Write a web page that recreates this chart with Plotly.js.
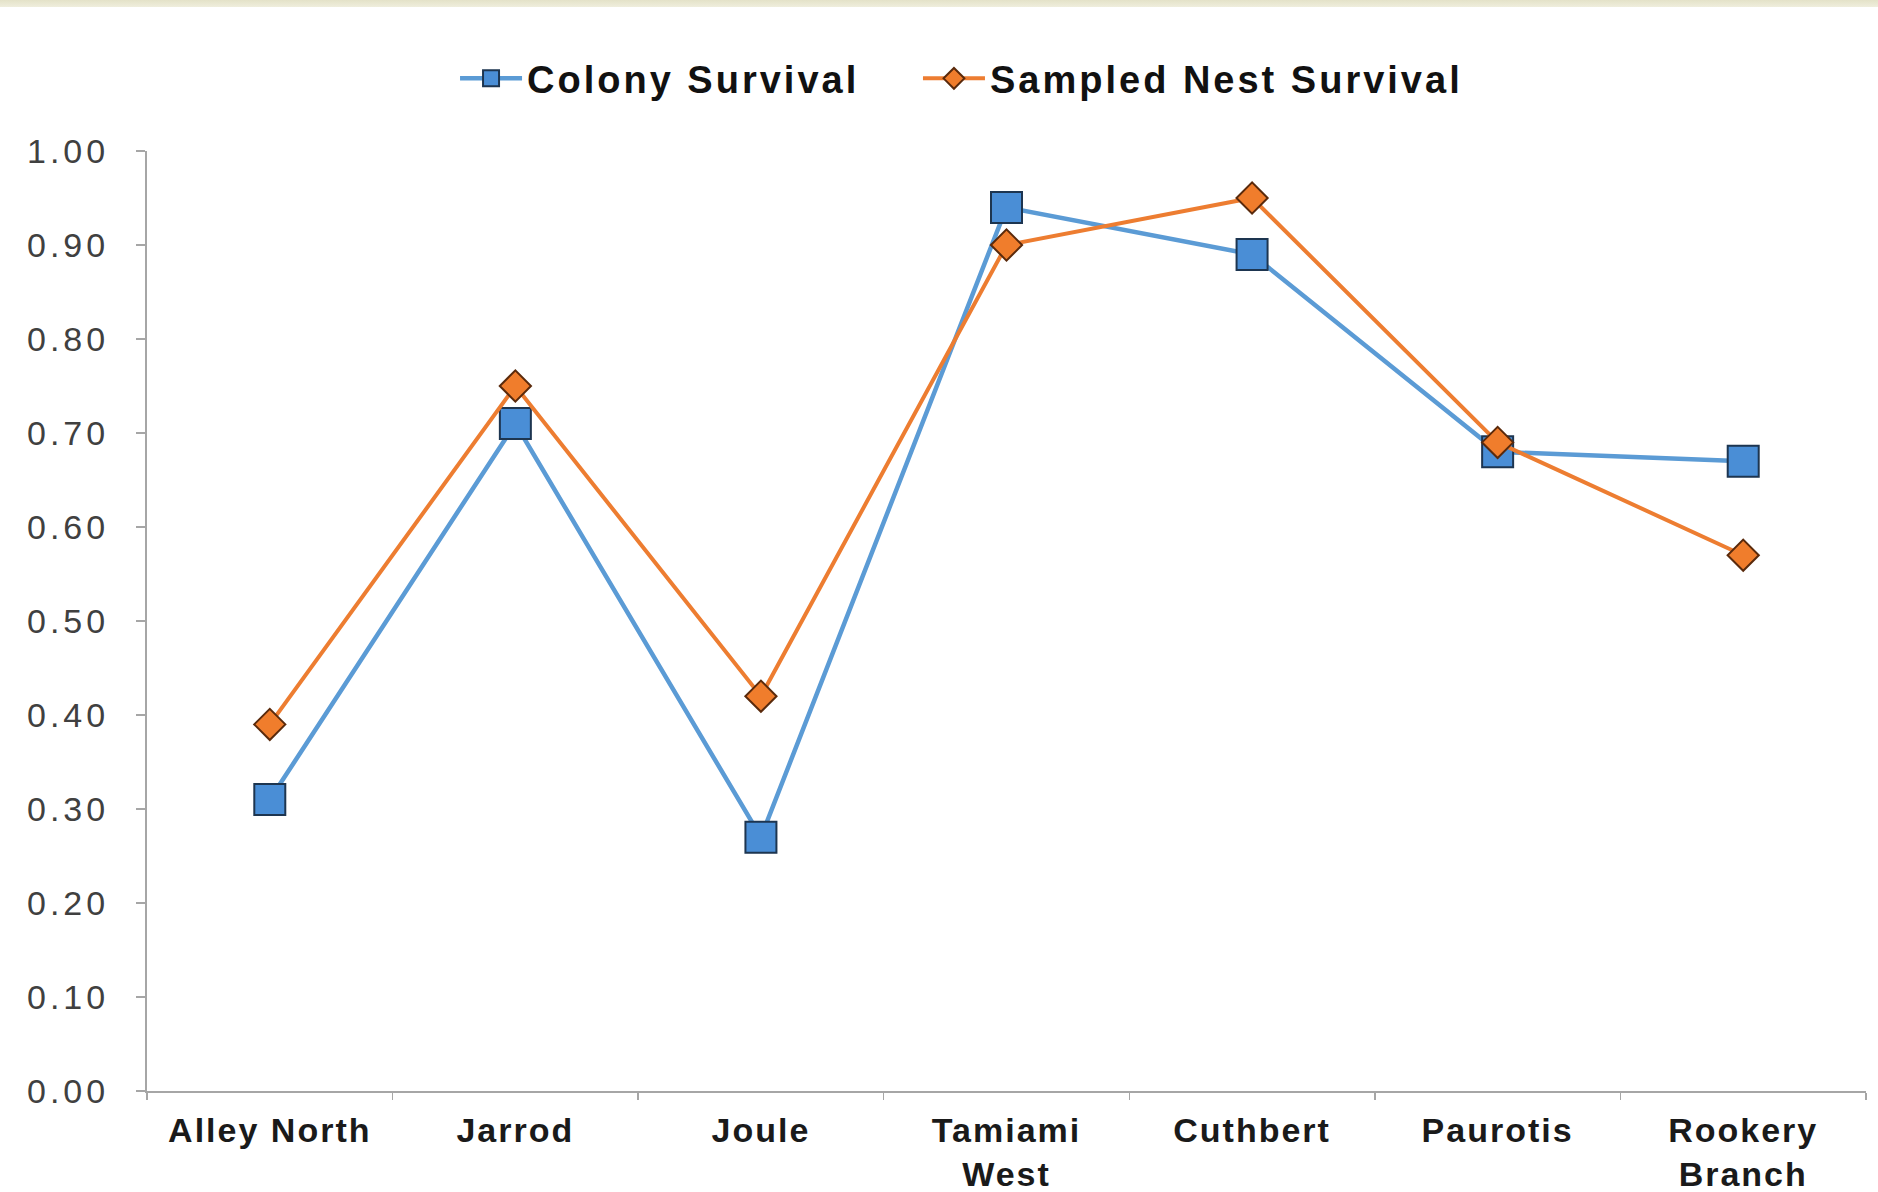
<!DOCTYPE html>
<html>
<head>
<meta charset="utf-8">
<script src="https://cdn.plot.ly/plotly-3.0.1.min.js"></script>
<style>
  html, body { margin: 0; padding: 0; background: #ffffff; }
  #wrap { position: relative; width: 1878px; height: 1192px; }
  #topband { position: absolute; left: 0; top: 0; width: 1878px; height: 7px;
             background: linear-gradient(to bottom, #e4e2c8, #efeedd); z-index: 5; }
  #chart { width: 1878px; height: 1192px; }
  svg text.legendtext, svg text.legend2text { letter-spacing: 3px; }
  .xtick text { letter-spacing: 2px; }
  .ytick text { letter-spacing: 4px; }
</style>
</head>
<body>
<div id="wrap">
  <div id="topband"></div>
  <div id="chart"></div>
</div>
<script>
const categories = ["Alley North", "Jarrod", "Joule", "Tamiami<br>West", "Cuthbert", "Paurotis", "Rookery<br>Branch"];
const colonySurvival = [0.31, 0.71, 0.27, 0.94, 0.89, 0.68, 0.67];
const sampledNestSurvival = [0.39, 0.75, 0.42, 0.90, 0.95, 0.69, 0.57];
const yTickValues = [0, 0.1, 0.2, 0.3, 0.4, 0.5, 0.6, 0.7, 0.8, 0.9, 1.0];
const yTickLabels = ["0.00", "0.10", "0.20", "0.30", "0.40", "0.50", "0.60", "0.70", "0.80", "0.90", "1.00"];

const traces = [
  {
    type: "scatter", mode: "lines+markers", name: "Colony Survival",
    x: categories, y: colonySurvival, legend: "legend",
    line: { color: "#5b9bd5", width: 4.5 },
    marker: { symbol: "square", size: 31, color: "#4a8ed6", line: { color: "#1d3550", width: 2 } },
    cliponaxis: false
  },
  {
    type: "scatter", mode: "lines+markers", name: "Sampled Nest Survival",
    x: categories, y: sampledNestSurvival, legend: "legend2",
    line: { color: "#ed7d31", width: 4 },
    marker: { symbol: "diamond", size: 24, color: "#f07d2c", line: { color: "#5a2a0c", width: 2 } },
    cliponaxis: false
  }
];

const legendFont = { size: 38, color: "#111111", family: "Liberation Sans, Arial, sans-serif", weight: "bold" };

const layout = {
  width: 1878, height: 1192,
  margin: { l: 147, r: 12, t: 151, b: 101 },
  paper_bgcolor: "#ffffff", plot_bgcolor: "#ffffff",
  font: { family: "Liberation Sans, Arial, sans-serif" },
  showlegend: true,
  legend: {
    orientation: "h", xref: "container", yref: "container",
    x: 0.2423, xanchor: "left", y: 0.934, yanchor: "middle",
    itemwidth: 62, font: legendFont, bgcolor: "rgba(0,0,0,0)"
  },
  legend2: {
    orientation: "h", xref: "container", yref: "container",
    x: 0.4888, xanchor: "left", y: 0.934, yanchor: "middle",
    itemwidth: 62, font: legendFont, bgcolor: "rgba(0,0,0,0)"
  },
  xaxis: {
    type: "category", range: [-0.5, 6.5],
    showline: true, linecolor: "#a6a6a6", linewidth: 2,
    showgrid: false, zeroline: false,
    tickson: "boundaries", ticks: "outside", ticklen: 7, tickcolor: "#a6a6a6", tickwidth: 1.5,
    ticklabelstandoff: 8,
    tickfont: { size: 34, color: "#1a1a1a", family: "Liberation Sans, Arial, sans-serif", weight: "bold" },
    fixedrange: true
  },
  yaxis: {
    range: [0, 1], tickvals: yTickValues, ticktext: yTickLabels,
    showline: true, linecolor: "#a6a6a6", linewidth: 2,
    showgrid: false, zeroline: false,
    ticks: "outside", ticklen: 9, tickcolor: "#a6a6a6", tickwidth: 1.5,
    ticklabelstandoff: 20,
    tickfont: { size: 34, color: "#404040", family: "Liberation Sans, Arial, sans-serif" },
    fixedrange: true
  }
};

Plotly.newPlot("chart", traces, layout, { displayModeBar: false, staticPlot: true });
</script>
</body>
</html>
